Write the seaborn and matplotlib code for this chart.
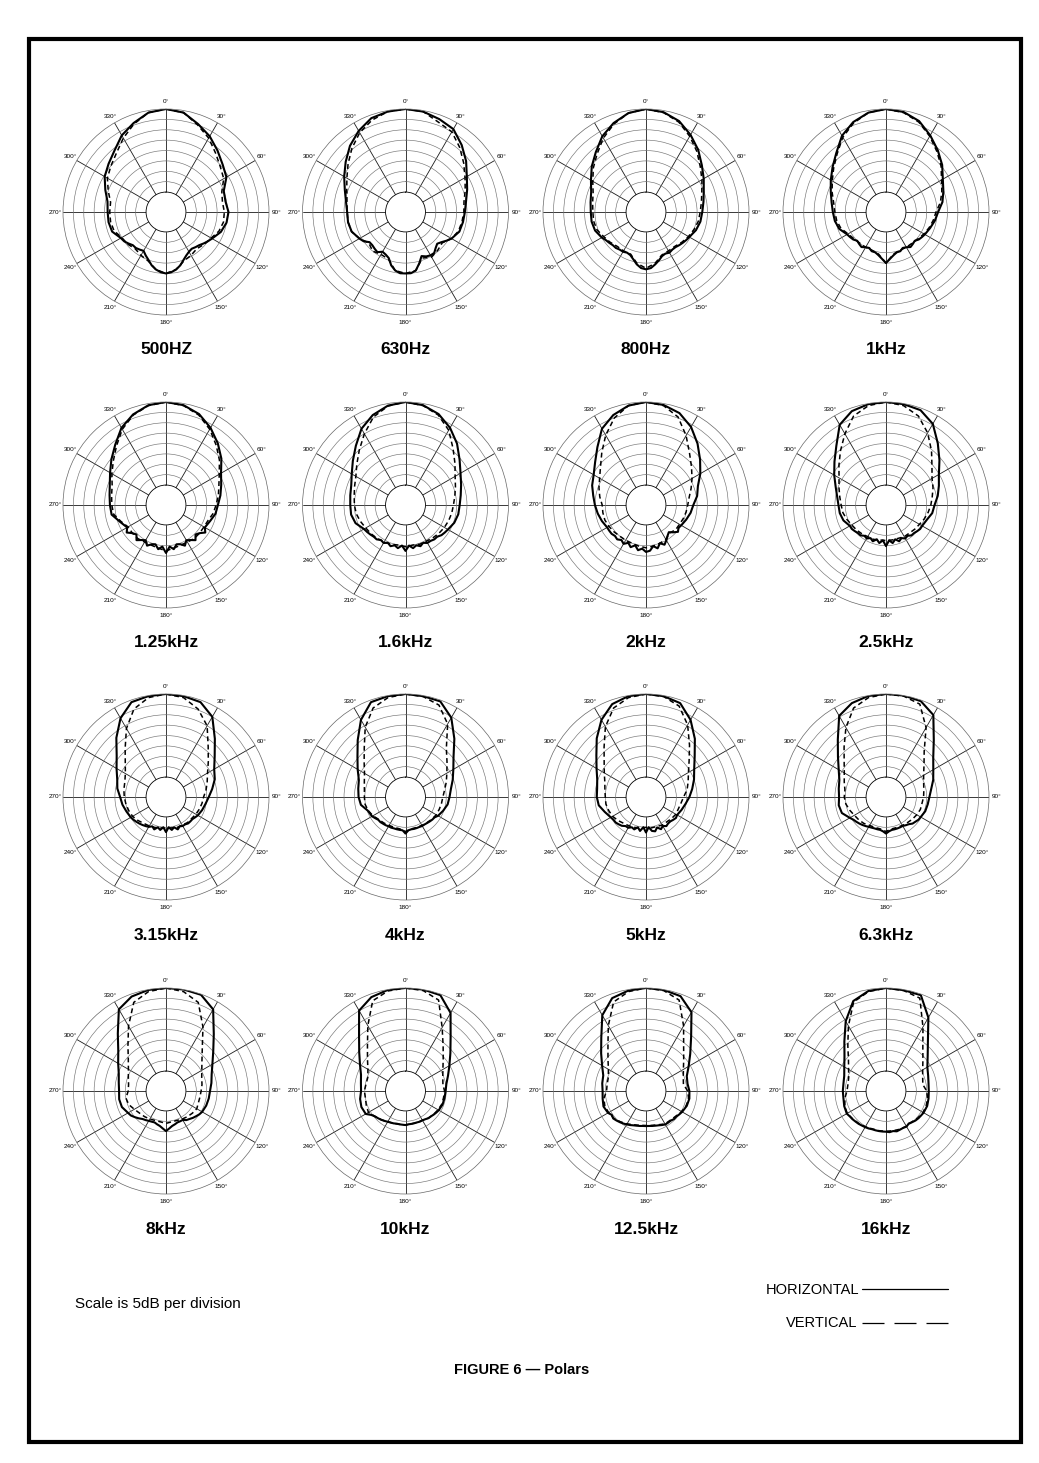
import numpy as np
import matplotlib
matplotlib.use("Agg")
import matplotlib.pyplot as plt
import seaborn as sns
from matplotlib.lines import Line2D
from matplotlib.patches import Rectangle

sns.set_style("white")
plt.rcParams["font.family"] = ["Liberation Sans", "DejaVu Sans"]
plt.rcParams["text.color"] = "black"
plt.rcParams["xtick.color"] = "black"

# measurement angles in degrees (clockwise from on-axis)
# horizontal traces are read finer at the rear to keep the ripples
ANG_H = np.r_[0:120:10, 120:245:5, 250:360:10]
ANG_V = np.arange(0, 360, 10)

freq_labels = ["500HZ", "630Hz", "800Hz", "1kHz",
               "1.25kHz", "1.6kHz", "2kHz", "2.5kHz",
               "3.15kHz", "4kHz", "5kHz", "6.3kHz",
               "8kHz", "10kHz", "12.5kHz", "16kHz"]

# dB relative to on-axis, horizontal plane (solid)
h_500 = [0, -1, -4.5, -7.5, -11, -14, -16, -20, -20.5, -19.5, -20, -21.5,
         -24, -25, -26, -27, -27.5, -28, -27.5, -26.5, -25, -23, -21.5, -20.5, -20,
         -20.5, -21.5, -23, -25, -26.5, -28, -27.5, -27, -27, -26, -25, -24.5,
         -22, -21.5, -21.5, -21, -18.5, -15.5, -13.5, -11, -7, -4, -1]
h_630 = [0, -0.5, -2, -3.5, -7.5, -11.5, -15.5, -18, -20, -21, -21.5, -22,
         -24, -25.5, -27, -28, -27, -25.5, -25.5, -26, -27, -24, -21, -20, -20,
         -20, -21, -23, -26, -27, -27.5, -26, -26.5, -27, -27, -25, -24,
         -22, -21.5, -21.5, -20.5, -18.5, -15.5, -12, -8, -4.5, -1.5, -0.5]
h_800 = [0, -0.8, -3, -6.7, -10.5, -14.5, -17.5, -20, -21.5, -22.5, -23, -24,
         -25.5, -26, -26.5, -27, -27.5, -27.5, -27, -27.5, -27, -25.5, -24, -22.5, -22,
         -22.5, -24, -26, -27.5, -28, -27.5, -27.5, -27, -27, -26.5, -26, -25,
         -23.5, -23, -23, -22.5, -21.5, -19, -15.5, -12, -7.5, -4, -1.2]
h_1k = [0, -0.7, -3, -7, -10.8, -14.3, -18, -20.2, -22, -24.5, -25.7, -27,
        -28, -28.5, -29, -30, -29.5, -29, -30, -30.5, -29.5, -29.5, -28.5, -27, -25,
        -27, -28.5, -29.5, -29.5, -30.5, -30, -29, -29.5, -30, -29, -28.5, -28,
        -25.7, -24.6, -24, -23, -21.3, -18.9, -16, -12.4, -7.2, -3.5, -1]
h_1k25 = [0, -0.8, -3, -6.7, -10.8, -14.8, -19, -21.3, -23, -24.6, -25.4, -27,
          -28, -26.5, -28.5, -29.5, -27.5, -29, -30, -28, -29.5, -30, -28, -29.5, -26.5,
          -29.5, -28, -30, -29.5, -28, -30, -29, -27.5, -29.5, -28.5, -26.5, -28,
          -26, -23, -22.6, -22, -20.8, -18.5, -15.3, -11.6, -6.7, -3.2, -0.8]
h_1k6 = [0, -0.8, -3, -6.7, -11, -15.6, -19, -21.1, -22.6, -23.5, -23.8, -24.6,
         -26, -26.5, -27, -28, -28, -28.5, -28.5, -29.5, -28.5, -29.5, -28.5, -30, -27.5,
         -30, -28.5, -29.5, -28.5, -29.5, -28.5, -29, -28, -28, -27.5, -27, -26.5,
         -24, -23, -23, -22.6, -21.8, -19.7, -16.5, -12.4, -7.2, -3.5, -1]
h_2k = [0, -0.7, -2.5, -6.2, -11, -15.6, -19.4, -23, -24.6, -26.8, -27.8, -29,
        -30, -30.5, -29.5, -31, -32.5, -31.5, -30, -28.5, -30, -28, -29.5, -27.5, -27,
        -28.5, -27.5, -29.5, -28, -29.5, -28, -29, -28, -28.5, -28, -28, -28,
        -27, -26, -25, -23.8, -22, -20.5, -17.6, -13.2, -7.2, -3.5, -1]
h_2k5 = [0, -0.3, -1, -4.5, -10.8, -16, -20.2, -22.5, -24.3, -26.2, -27, -28.7,
         -29.5, -29.5, -30, -30.5, -30.5, -31.5, -31, -32, -31, -32.5, -31, -32.5, -29.8,
         -32.5, -31, -32.5, -31, -32, -31, -31.5, -30.5, -30.5, -30, -29.5, -29.5,
         -27.8, -27, -26.7, -25.7, -23.8, -20.8, -17.2, -12.4, -5, -1.5, -0.3]
h_3k15 = [0, -0.3, -1, -5, -13, -19, -22.8, -24.6, -27, -29, -30.3, -31.1,
          -31.9, -32.5, -33, -33, -33, -33.5, -33.5, -34, -33, -34.5, -33.5, -35, -32.7,
          -35, -33.5, -34.5, -33, -34, -33, -32.5, -32, -31.5, -31, -30.5, -30,
          -29.3, -28.3, -27.5, -25.8, -24.6, -22.1, -18.6, -12.4, -5.8, -1, -0.3]
h_4k = [0, -0.3, -0.6, -5.5, -13, -19.4, -23, -25.4, -27.4, -28.4, -29, -30.3,
        -31.5, -32.5, -32.7, -33, -33.3, -33.5, -33.5, -33.7, -33.7, -33.7, -33.8, -33.5, -32,
        -33.5, -33.5, -33.5, -33.5, -33.3, -33.3, -33, -32.8, -32.5, -32.5, -31.8, -31,
        -30.3, -27.8, -27, -26.5, -25.7, -23, -19.4, -13.8, -6.7, -1, -0.3]
h_5k = [0, -0.3, -1.5, -6.7, -13, -19, -22.8, -25, -27, -28.7, -30.3, -31.4,
        -32.3, -32, -32.5, -33, -33, -32.5, -33.5, -32.5, -34, -32.5, -33, -35, -32.5,
        -35, -33, -34.5, -33, -33.5, -32.5, -32.5, -31.5, -31, -30.5, -30.5, -30,
        -28.5, -26.5, -25.9, -25.7, -24.6, -22.1, -18.4, -12.7, -6.7, -2, -0.3]
h_6k3 = [0, 0, -0.5, -4, -13.8, -19.9, -23.3, -25.4, -27.5, -28.7, -29.2, -29.5,
         -30.3, -30.5, -31.1, -31.5, -32.5, -33, -33.5, -33.5, -33.5, -33.5, -33.5, -33, -32,
         -33, -33.5, -33.5, -33.5, -33.3, -33, -32.5, -32, -31.5, -31, -30.5, -29.5,
         -27, -26.5, -27, -26.5, -25.7, -23.3, -19.4, -13.5, -4.5, -1.5, -0.2]
h_8k = [0, 0, -0.3, -4.2, -13.8, -19.9, -23.8, -26.2, -27.4, -28.4, -28.7, -29,
        -29.5, -30, -30.7, -31.3, -32, -32.5, -33.5, -33.5, -33.5, -33, -32.5, -31.5, -30.3,
        -31.5, -32.5, -33, -33.5, -33.3, -33, -32.5, -32, -31, -30, -29, -28.5,
        -27, -26.7, -27, -26.5, -25.4, -23, -19.6, -13.5, -4.2, -1.2, -0.2]
h_10k = [0, 0, -0.5, -6.2, -15.8, -21.4, -25.2, -27.8, -29.6, -30.3, -30.5, -30.6,
         -31.1, -31.5, -31.9, -32.3, -32.5, -33, -33.3, -33.3, -33.5, -33.5, -33.5, -33.5, -33.2,
         -33.3, -33.3, -33.3, -33, -32.8, -32.5, -32, -31.5, -31, -30.5, -29.5, -27.5,
         -27, -27.4, -28.2, -27.8, -26.8, -24.3, -20.5, -14.8, -4.9, -1.5, -0.2]
h_12k5 = [0, -0.2, -1, -5.8, -15.8, -21.8, -25.9, -28.7, -29.3, -28.7, -28.4, -28.7,
          -29.5, -30, -30.5, -30.5, -31, -31, -31, -31.5, -32, -32.3, -32.5, -32.7, -32.7,
          -32.7, -32.5, -32.3, -32, -31.5, -31, -30.5, -30, -29.5, -29, -29.5, -28.5,
          -27.8, -28.4, -28.7, -28.2, -27.7, -25.2, -21.4, -16.1, -7.5, -2, -0.5]
h_16k = [0, -0.3, -0.5, -8.8, -18.2, -23.4, -26.6, -28, -28.8, -29, -28.8, -28.5,
         -28.7, -29, -29.2, -29.5, -30, -30.5, -29.8, -30, -29.8, -29.5, -30, -29.7, -30,
         -30, -30, -30, -30, -29.7, -29.5, -29.3, -29, -28.8, -28.5, -28.3, -27.8,
         -28.2, -28.8, -28.8, -28.8, -28.2, -26.4, -23.5, -18.4, -10.8, -3.5, -0.7]

# dB relative to on-axis, vertical plane (dashed)
v_500 = [0, -1, -5, -8.5, -12.5, -15.5, -17.5, -21, -22, -21.5, -21.5, -22.5,
         -24.5, -25.5, -26.5, -25.5, -24.5, -21.5, -20, -21.5, -24.5, -25.5, -26.5, -25.5,
         -25, -23, -22.5, -22.5, -22.5, -20, -17, -15, -12.5, -8.5, -4.5, -1]
v_630 = [0, -0.5, -3.5, -5, -9, -13, -16.5, -19, -21, -21.5, -22, -22.5,
         -24, -26.5, -25.5, -24.5, -26, -21, -20, -21, -25.5, -26, -25, -26.5,
         -24, -22, -21.5, -21.5, -21, -19.5, -17, -13.5, -9.5, -5.5, -2.5, -0.5]
v_800 = [0, -1, -3.5, -7.5, -11.5, -15.5, -18.5, -21, -22.5, -23.5, -24, -25,
         -26, -27, -28, -28, -27.5, -24.5, -22.5, -24.5, -28, -28, -28, -27,
         -26, -24.5, -24, -24, -23.5, -22.5, -20, -16.5, -13, -8.5, -4.5, -1.2]
v_1k = [0, -1, -3.5, -7.5, -11.5, -15, -18.7, -21, -23, -25.5, -26.5, -27.5,
        -28.5, -29.5, -30, -30, -30, -29, -25, -29, -30, -30, -30, -29.5,
        -28.5, -26.5, -25.5, -25, -24, -22, -19.7, -16.7, -13, -8, -4, -1]
v_1k25 = [0, -1, -3.5, -7.5, -12, -16, -20, -22.5, -24, -25.5, -26.5, -28,
          -28.5, -28.5, -28.5, -29, -29, -28.5, -27.5, -28.5, -29, -29, -28.5, -28.5,
          -28.5, -26.5, -24, -23.5, -23, -22, -19.5, -16.5, -12.5, -7.5, -3.5, -1]
v_1k6 = [0, -1, -3.5, -8, -14, -18.5, -22, -24, -25.5, -26.5, -27, -27.5,
         -28, -28.5, -29, -29.5, -29.5, -30, -29.5, -30, -29.5, -29, -28.5, -28,
         -27.5, -26.5, -25.5, -25, -24.5, -23.5, -22, -19, -15, -10, -4.5, -1.2]
v_2k = [0, -1, -4.5, -11, -17, -21, -24, -26.5, -28.5, -29.5, -30, -30.5,
        -31, -31, -32, -30.5, -30, -29.5, -29, -29.5, -30, -30, -30, -29.5,
        -29, -28.5, -28.5, -28.5, -27, -25.5, -23.8, -21, -16.5, -10.8, -5, -1]
v_2k5 = [0, -1, -4, -9.5, -15.5, -20.7, -24, -25.5, -27, -28, -29, -30,
         -31, -31.5, -32, -32, -32.5, -32.5, -32.5, -32.5, -32, -32, -31.5, -31,
         -30.5, -29.5, -28.5, -28, -27, -25.5, -23.5, -20, -15.5, -10, -4, -1]
v_3k15 = [0, -1, -4.5, -10, -18, -23, -26.5, -28.5, -30, -31.5, -32, -32.5,
          -33, -33.5, -33.5, -34, -34, -34.5, -34.5, -34.5, -34, -33.5, -33, -32,
          -31, -30.5, -30, -29.5, -29, -28.5, -27, -24, -19, -11.5, -4.5, -1]
v_4k = [0, -0.5, -2.5, -9, -19, -23.5, -26.6, -28.7, -30.5, -31.6, -32, -32.3,
        -32.5, -33, -33.5, -33.8, -34, -34, -33, -34, -34, -33.8, -33.3, -32.8,
        -31.5, -30.5, -29.8, -29.8, -29.5, -28.5, -26.8, -23.6, -18.7, -10.8, -4, -1]
v_5k = [0, -0.5, -3, -9.5, -17, -22.5, -26, -28, -29.5, -31.5, -32.5, -33,
        -33, -33.5, -34, -34, -34.5, -34.5, -35, -34.5, -34, -33.5, -33, -32,
        -31, -30.5, -30, -30, -29.5, -28.5, -26.4, -23.3, -18.2, -10.5, -4, -1]
v_6k3 = [0, -0.3, -2, -11, -21, -25.7, -28.7, -30.3, -31.1, -31.5, -32, -32,
         -32.5, -33, -33.5, -33.8, -34, -34, -33, -34, -34, -33.8, -33, -32.5,
         -32, -31, -30, -29.5, -29.5, -28.2, -26.4, -23.3, -18.2, -11, -4, -1]
v_8k = [0, -1, -4.2, -14, -22.4, -27, -29.7, -31.3, -32, -32.7, -33, -33,
        -32.5, -33, -33.5, -34, -34.5, -34.5, -34, -34.5, -34.5, -34, -33.5, -33,
        -32, -30.5, -30, -31.4, -31.3, -30.3, -28.7, -25.9, -21.1, -13.5, -4.2, -1]
v_10k = [0, -0.5, -3, -14.3, -21.4, -25.9, -28.8, -30.5, -31.3, -30.8, -31, -31,
         -31.5, -32, -32.5, -33.3, -33.5, -33.5, -33.2, -33.3, -33, -32.5, -31.5, -30.5,
         -29, -29.5, -30, -29.8, -30.3, -30.3, -28.7, -25.7, -21.1, -13.3, -3.4, -0.7]
v_12k5 = [0, -0.5, -3, -13.4, -21.4, -25.9, -28.8, -30.5, -31.3, -29.5, -28.8, -29,
          -29.8, -30.8, -31.3, -31.3, -32.3, -32.8, -33, -32.8, -32.3, -31.3, -30.3, -29.3,
          -28.8, -28.5, -29, -30.6, -30.6, -30.3, -28.7, -25.7, -21.1, -13.3, -4, -1]
v_16k = [0, -0.5, -2, -14, -22, -26.4, -29.2, -30.8, -31.6, -30, -29.3, -29,
         -29, -29.5, -30.2, -30, -30, -30.2, -30.2, -30.2, -30.2, -29.7, -29.2, -28.7,
         -28, -28.5, -29.5, -30.8, -31, -30.5, -28.8, -26, -21, -13.4, -4, -1]

horiz = [h_500, h_630, h_800, h_1k, h_1k25, h_1k6, h_2k, h_2k5,
         h_3k15, h_4k, h_5k, h_6k3, h_8k, h_10k, h_12k5, h_16k]
vert = [v_500, v_630, v_800, v_1k, v_1k25, v_1k6, v_2k, v_2k5,
        v_3k15, v_4k, v_5k, v_6k3, v_8k, v_10k, v_12k5, v_16k]

grid_angles = np.arange(0, 360, 30)

# page layout in pixels
W, H = 1039, 1463
col_x = [166, 405.5, 646, 886]
row_y = [212, 505, 797, 1091]
R = 103
R_ORIGIN = -49.6
LABEL_R = R_ORIGIN + 1.075 * (0 - R_ORIGIN)   # just outside the outer ring

fig = plt.figure(figsize=(W / 100, H / 100), dpi=100)


def closed(ang, vals):
    th = np.deg2rad(np.append(ang, 360))
    return th, np.append(vals, vals[0])


for i, (lab, hv, vv) in enumerate(zip(freq_labels, horiz, vert)):
    cx, cy = col_x[i % 4], row_y[i // 4]
    ax = fig.add_axes([(cx - R) / W, 1 - (cy + R) / H, 2 * R / W, 2 * R / H],
                      projection="polar")
    ax.set_theta_zero_location("N")
    ax.set_theta_direction(-1)

    th, r = closed(ANG_V, vv)
    sns.lineplot(x=th, y=r, ax=ax, color="black", lw=1.1,
                 linestyle=(0, (3.2, 2.2)), sort=False, estimator=None)
    th, r = closed(ANG_H, hv)
    sns.lineplot(x=th, y=r, ax=ax, color="black", lw=1.5,
                 sort=False, estimator=None)

    ax.set_ylim(-40, 0)
    ax.set_rorigin(R_ORIGIN)
    ax.set_thetagrids(grid_angles, labels=[])
    ax.set_rgrids(np.arange(-35, 0, 5), labels=[])
    ax.xaxis.grid(True, color="0.1", lw=0.6)
    ax.yaxis.grid(True, color="0.45", lw=0.45)
    ax.spines["polar"].set_color("0.4")
    ax.spines["polar"].set_linewidth(0.5)
    ax.spines["inner"].set_color("black")
    ax.spines["inner"].set_linewidth(0.6)
    ax.set_xlabel("")
    ax.set_ylabel("")
    for a in grid_angles:
        ax.text(np.deg2rad(a), LABEL_R, f"{a}°", ha="center", va="center",
                fontsize=4.6, clip_on=False)

    fig.text(cx / W, 1 - (cy + 138) / H, lab, ha="center", va="center",
             fontsize=12.5, fontweight="bold")

# footer
fig.text(75 / W, 1 - 1304 / H, "Scale is 5dB per division", ha="left",
         va="center", fontsize=11)
fig.text(859 / W, 1 - 1290 / H, "HORIZONTAL", ha="right", va="center",
         fontsize=10.5)
fig.text(857 / W, 1 - 1323 / H, "VERTICAL", ha="right", va="center",
         fontsize=10.5)
fig.add_artist(Line2D([862 / W, 948 / W], [1 - 1289 / H] * 2,
                      transform=fig.transFigure, color="black", lw=0.9))
fig.add_artist(Line2D([862 / W, 948 / W], [1 - 1323 / H] * 2,
                      transform=fig.transFigure, color="black", lw=0.9,
                      linestyle=(0, (17.6, 8))))
fig.text(522 / W, 1 - 1370 / H, "FIGURE 6 — Polars", ha="center",
         va="center", fontsize=10.5, fontweight="bold")

# page frame
fig.add_artist(Rectangle((29 / W, 1 - 1442 / H), (1021 - 29) / W, (1442 - 39) / H,
                         transform=fig.transFigure, fill=False,
                         edgecolor="black", lw=3))

fig.savefig("out.png", dpi=100, facecolor="white")
